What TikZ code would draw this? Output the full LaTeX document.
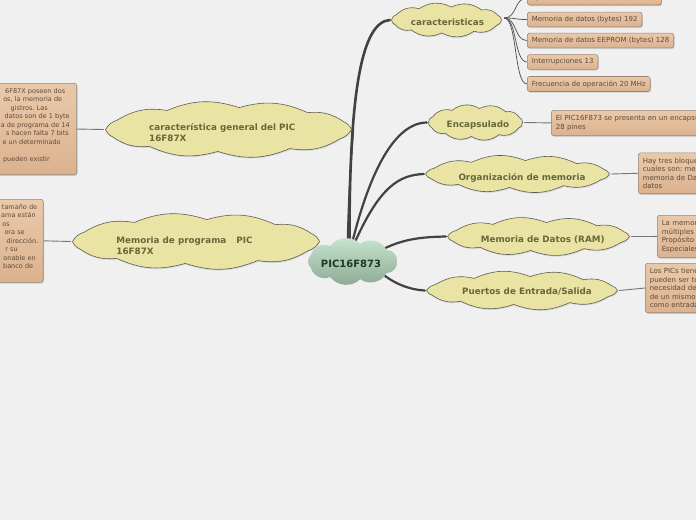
\documentclass[tikz,border=0pt]{standalone}
\usepackage{fontspec}
\setmainfont{DejaVu Sans}
\usetikzlibrary{shadows,calc}
\frenchspacing
\hyphenpenalty=10000
\definecolor{bg}{HTML}{F0F0F0}
\definecolor{cloudfill}{HTML}{E9E4A4}
\definecolor{cloudline}{HTML}{5E5E52}
\definecolor{cloudtext}{HTML}{67673A}
\definecolor{boxtop}{HTML}{E9C9AA}
\definecolor{boxbot}{HTML}{DCB28E}
\definecolor{boxline}{HTML}{9A8776}
\definecolor{boxtext}{HTML}{5E4A3A}
\definecolor{ctop}{HTML}{C8E6D0}
\definecolor{cbot}{HTML}{8CA893}
\definecolor{ctext}{HTML}{1E3A26}
\definecolor{trunk}{HTML}{424242}
\definecolor{twig}{HTML}{555555}
\definecolor{leaf}{HTML}{767676}
\pgfdeclarelayer{backdrop}
\pgfdeclarelayer{edges}
\pgfdeclarelayer{clouds}
\pgfsetlayers{backdrop,edges,clouds,main}
\def\longpuffs{25,60,95,130,160,180,205,240,275,310,340,360}
\def\centerpuffs{40,80,120,160,200,240,280,320,360}
% name, cx, cy, half width, half height, inner ellipse b, style, puff angle list macro
\newcommand\mmcloud[8]{%
  \node[rectangle, inner sep=0pt, minimum width=2*#4, minimum height=2*#5] (#1) at (#2,#3) {};
  \pgfmathsetmacro\cloudA{#4-1.5}%
  \pgfmathsetmacro\cloudB{#6}%
  \begin{pgfonlayer}{clouds}
    \path[#7] ({#2+\cloudA},#3) \foreach \t in #8 { to ({#2+\cloudA*cos(\t)},{#3+\cloudB*sin(\t)}) } -- cycle;
  \end{pgfonlayer}%
}
\begin{document}
\begin{tikzpicture}[x=1pt,y=-1pt,
  idea/.style={draw=cloudline, line width=0.6pt, fill=cloudfill,
    drop shadow={shadow xshift=0.6pt, shadow yshift=-1.2pt, opacity=0.22}},
  central/.style={bend left=50, top color=ctop, bottom color=cbot, draw=none},
  ideatext/.style={text=cloudtext, font=\bfseries\fontsize{8.8}{11}\selectfont, inner sep=0pt, align=left},
  centraltext/.style={text=ctext, font=\bfseries\fontsize{10}{12}\selectfont, inner sep=0pt},
  note/.style={rectangle, rounded corners=2.5pt, draw=boxline, line width=0.6pt,
    top color=boxtop, bottom color=boxbot, text=boxtext,
    font=\fontsize{7}{8.5}\selectfont, align=left, inner xsep=4.5pt, inner ysep=4pt,
    drop shadow={shadow xshift=0.8pt, shadow yshift=-1.2pt, opacity=0.3}},
  multinote/.style={note, inner ysep=5pt},
  sidenote/.style={multinote, font=\fontsize{6.5}{8.5}\selectfont},
  trunkline/.style={draw=trunk, line width=2.2pt, line cap=round},
  twigline/.style={draw=twig, line width=0.75pt},
  leafline/.style={draw=leaf, line width=0.9pt},
]
\clip (0,0) rectangle (696,520);
\begin{pgfonlayer}{backdrop}
  \fill[bg] (0,0) rectangle (696,520);
\end{pgfonlayer}

% ---------- clouds ----------
\mmcloud{car}{446.5}{20}{56.5}{17}{13}{idea, bend left=30}{\longpuffs}
\mmcloud{gen}{228.5}{129.5}{124.5}{28.5}{22}{idea, bend left=20}{\longpuffs}
\mmcloud{mp}{196}{241.5}{125}{28.5}{22}{idea, bend left=20}{\longpuffs}
\mmcloud{enc}{475.5}{122.5}{48.5}{18.5}{14}{idea, bend left=34}{\longpuffs}
\mmcloud{org}{517.5}{174}{93.5}{19}{13.5}{idea, bend left=22}{\longpuffs}
\mmcloud{ram}{538.5}{236.5}{92.5}{19.5}{14}{idea, bend left=22}{\longpuffs}
\mmcloud{pue}{522}{290.5}{97}{19.5}{14}{idea, bend left=22}{\longpuffs}
\mmcloud{c}{352.5}{261.5}{46}{22}{17.9}{central}{\centerpuffs}

\node[centraltext] (c-t) at (351,264) {PIC16F873};
\node[ideatext] (car-t) at (447.5,22) {caracteristicas};
\node[ideatext] (gen-t) at (222.3,132.8) {caracter\'istica general del PIC\\16F87X};
\node[ideatext] (mp-t) at (184.5,245.4) {Memoria de programa\hspace{7pt} PIC\\16F87X};
\node[ideatext] (enc-t) at (478,125) {Encapsulado};
\node[ideatext] (org-t) at (522,177.5) {Organizaci\'on de memoria};
\node[ideatext] (ram-t) at (542.7,240) {Memoria de Datos (RAM)};
\node[ideatext] (pue-t) at (527,292) {Puertos de Entrada/Salida};

% ---------- notes ----------
\node[note, anchor=west] (k0) at (527,-2) {A/D tiene solo 5 canales de entrada};
\node[note, anchor=west] (k1) at (527,19.5) {Memoria de datos (bytes) 192};
\node[note, anchor=west] (k2) at (527,40.5) {Memoria de datos EEPROM (bytes) 128};
\node[note, anchor=west] (k3) at (527,62) {Interrupciones 13};
\node[note, anchor=west] (k4) at (527,84) {Frecuencia de operaci\'on 20 MHz};

\node[multinote, anchor=north west, text width=200] (ne) at (551,110)
  {El PIC16F873 se presenta en un encapsulado de\\28 pines};
\node[multinote, anchor=north west, text width=200] (no) at (638,152.5)
  {Hay tres bloques de memoria, los\\cuales son: memoria de Programa,\\memoria de Datos y memoria EEPROM de\\datos};
\node[multinote, anchor=north west, text width=200] (nr) at (657,215)
  {La memoria de datos contiene\\m\'ultiples registros de\\Prop\'osito General y de Funciones\\Especiales};
\node[multinote, anchor=north west, text width=200] (np) at (645,263)
  {Los PICs tienen puertos que\\pueden ser tomados sin la\\necesidad de usar todos los pines\\de un mismo puerto\\como entrada o salida};

\node[sidenote, anchor=north east, text width=72.5] (nl1) at (77,83)
  {\hspace*{65.5pt}\llap{6F87X poseen dos}\\
   \hspace*{62.5pt}\llap{os, la memoria de}\\
   \hspace*{48pt}\llap{gistros. Las}\\
   \hspace*{70pt}\llap{datos son de 1 byte}\\
   \hspace*{70pt}\llap{a de programa de 14}\\
   \hspace*{69pt}\llap{s hacen falta 7 bits}\\
   \hspace*{61pt}\llap{e un determinado}\\
   ~\\
   \hspace*{50pt}\llap{pueden existir}\\
   ~};
\node[sidenote, anchor=north east, text width=39] (nl2) at (43.5,199)
  {\hspace*{37.5pt}\llap{tama\~no de}\\
   \hspace*{36pt}\llap{ama est\'an}\\
   \hspace*{10pt}\llap{os}\\
   \hspace*{25pt}\llap{ora se}\\
   \hspace*{38.5pt}\llap{direcci\'on.}\\
   \hspace*{18pt}\llap{r su}\\
   \hspace*{36pt}\llap{onable en}\\
   \hspace*{33.5pt}\llap{banco de}\\
   ~};

% ---------- connectors ----------
\begin{pgfonlayer}{edges}
  \draw[trunkline, line width=2.6pt] ($(c.north)+(-3,6)$) .. controls (349,90) and (362,22) .. (car.west);
  \draw[trunkline, line width=1.8pt] ($(c.north)+(-5,6)$) .. controls (349,180) and (352,150) .. (gen.east);
  \draw[trunkline] ($(c.north)+(-1,6)$) .. controls (370,170) and (395,123) .. (enc.west);
  \draw[trunkline] ($(c.north)+(1,6)$) .. controls (380,185) and (400,175) .. (org.west);
  \draw[trunkline] ($(c.north east)+(-16,10)$) .. controls (405,238) and (425,237) .. (ram.west);
  \draw[trunkline] ($(c.south east)+(-14,-8)$) .. controls (400,287) and (415,290) .. (pue.west);
  \draw[trunkline] (c.center) -- ($(mp.east)+(2,8)$);
  \foreach \k in {k0,k1,k2,k3,k4}
    \draw[twigline] ($(car.east)+(1,-2)$) .. controls +(13,0) and +(-13,0) .. (\k.west);
  \draw[leafline] (enc.east) -- (ne.west);
  \draw[leafline] (org.east) -- (no.west);
  \draw[leafline] (ram.east) -- (nr.west);
  \draw[leafline] (pue.east) -- (np.west);
  \draw[leafline] (gen.west) -- (nl1.east);
  \draw[leafline] (mp.west) -- (nl2.east);
\end{pgfonlayer}
\end{tikzpicture}
\end{document}
